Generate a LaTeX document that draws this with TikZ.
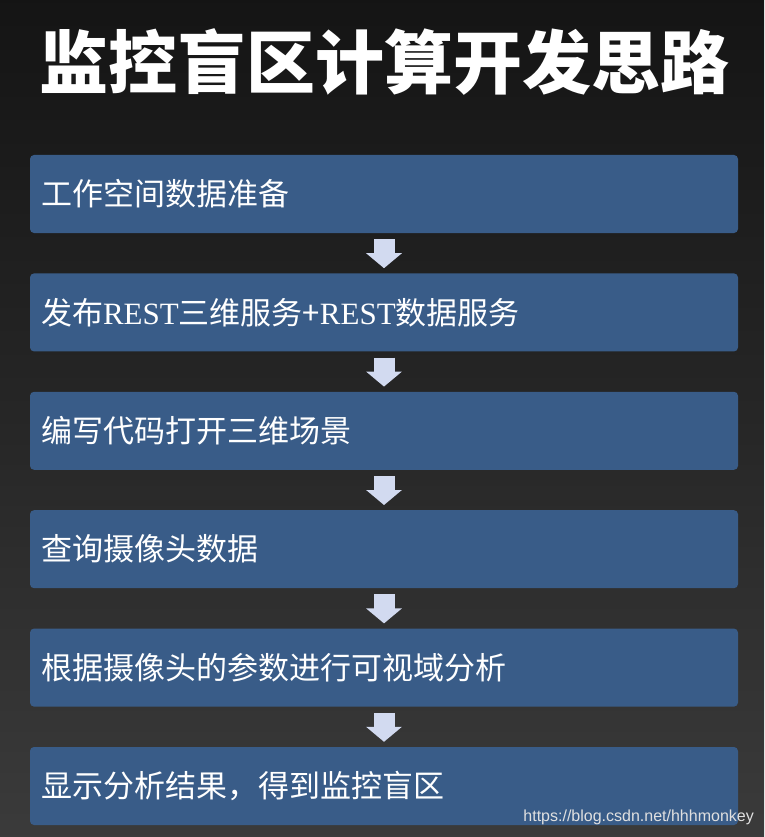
\documentclass[tikz,border=0pt]{standalone}
\usepackage{fontspec}
\usetikzlibrary{positioning,arrows.meta}
\newfontfamily\cjk{Noto Sans CJK SC}
\newfontfamily\latin{Liberation Serif}
\newfontfamily\wmfont{Liberation Sans}
\definecolor{boxblue}{HTML}{395C88}
\definecolor{arrowgray}{HTML}{D2DAF0}
\begin{document}
\begin{tikzpicture}[x=1pt,y=-1pt]
			\tikzset{stepbox/.style={rectangle,rounded corners=4pt,fill=boxblue,minimum width=708pt,minimum height=78pt,text width=686pt,inner xsep=11pt,align=left,text=white,font=\cjk\fontsize{31}{35}\selectfont},
			downarrow/.style={draw=arrowgray,line width=21pt,-{Triangle[width=35pt,length=15pt]},shorten <=6pt,shorten >=5pt}}
			\shade[top color=black!92,bottom color=black!77,middle color=black!85] (0,0) rectangle (764,837);
			\useasboundingbox (0,0) rectangle (764,837);
			\node[text=white,font=\cjk\bfseries\fontsize{69}{74}\selectfont] (title) at (384,62) {监控盲区计算开发思路};
			\node[stepbox] (s1) at (384,194) {工作空间数据准备};
			\node[stepbox,below=40pt of s1] (s2) {发布{\latin REST}三维服务+{\latin REST}数据服务};
			\node[stepbox,below=40pt of s2] (s3) {编写代码打开三维场景};
			\node[stepbox,below=40pt of s3] (s4) {查询摄像头数据};
			\node[stepbox,below=40pt of s4] (s5) {根据摄像头的参数进行可视域分析};
			\node[stepbox,below=40pt of s5] (s6) {显示分析结果，得到监控盲区};
			\draw[downarrow] (s1) -- (s2);
			\draw[downarrow] (s2) -- (s3);
			\draw[downarrow] (s3) -- (s4);
			\draw[downarrow] (s4) -- (s5);
			\draw[downarrow] (s5) -- (s6);
			\node[anchor=south east,inner sep=0pt,text=black!12,font=\wmfont\fontsize{16}{18}\selectfont] (wm) at (754,825) {https://blog.csdn.net/hhhmonkey};
		\end{tikzpicture}
\end{document}
